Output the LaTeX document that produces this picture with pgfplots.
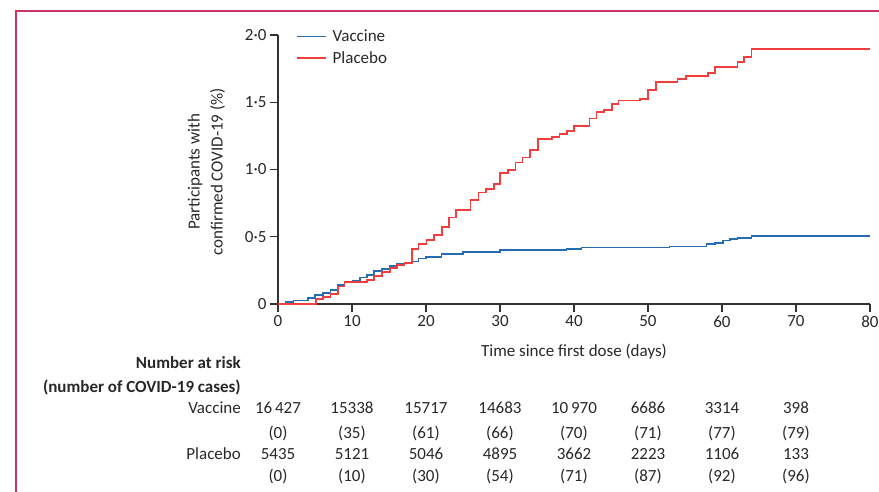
\documentclass[border=0pt]{standalone}
\usepackage{pgfplots}
\pgfplotsset{compat=1.18}
\usepackage{fontspec}
\setmainfont{Carlito}
\definecolor{vac}{RGB}{38,108,178}
\definecolor{pla}{RGB}{240,62,62}
\definecolor{framec}{RGB}{200,52,100}
\definecolor{txt}{RGB}{40,40,40}
\definecolor{axisc}{RGB}{50,50,50}
\newcommand{\fs}{\fontsize{17}{23}\selectfont}
\begin{document}
\begin{tikzpicture}[x=1pt,y=1pt]
\useasboundingbox (0,0) rectangle (879,492);
\draw[framec, line width=2pt] (16,0) -- (16,481) -- (879,481);
\begin{axis}[
  at={(278pt,188pt)}, anchor=south west,
  scale only axis, width=592pt, height=269pt,
  xmin=0, xmax=80, ymin=0, ymax=2,
  axis lines*=left,
  axis line style={line width=1.4pt, color=axisc},
  tick style={line width=1.4pt, color=axisc},
  tick align=outside,
  major tick length=8pt,
  xtick={0,10,...,80},
  ytick={0,0.5,1,1.5,2},
  yticklabels={0,0·5,1·0,1·5,2·0},
  /pgf/number format/assume math mode=true,
  tick label style={font=\fs, text=txt},
  xlabel={Time since first dose (days)},
  xlabel style={font=\fs, text=txt, at={(axis description cs:0.5,-0.178)}, anchor=center},
  ylabel={Participants with\\confirmed COVID-19 (\%)},
  ylabel style={font=\fs, text=txt, align=center, at={(axis description cs:-0.1208,0.491)}, anchor=center},
  clip=false,
  legend style={draw=none, fill=none, at={(axis cs:2.0,2.068)}, anchor=north west, font=\fs, text=txt, row sep=4pt},
  legend cell align=left,
  legend image code/.code={\draw[#1] (0pt,0pt) -- (29pt,0pt); \path (33pt,0pt);},
]
\addplot[const plot, vac, line width=1.7pt] coordinates {
(0,0) (1.0,0.013) (2.1,0.025) (4.1,0.042) (5.0,0.067) (6.1,0.084) (7.1,0.104)
(8.1,0.139) (9.0,0.164) (10.1,0.173) (11.05,0.198) (12.07,0.216) (13.0,0.245)
(14.1,0.258) (15.1,0.283) (16.1,0.295) (17.1,0.303) (18.07,0.316) (19.0,0.338)
(20.0,0.349) (22.1,0.373) (25.0,0.384) (30.0,0.399) (39.0,0.409) (41.0,0.419)
(52.9,0.428) (57.9,0.444) (59.05,0.456) (60.1,0.471) (61.1,0.481) (62.1,0.491)
(64.0,0.503) (80,0.503)};
\addlegendentry{Vaccine}
\addplot[const plot, pla, line width=1.7pt] coordinates {
(0,0) (5.1,0.035) (6.1,0.054) (7.1,0.074) (8.07,0.129) (9.0,0.164) (12.07,0.178)
(13.0,0.208) (14.1,0.24) (15.1,0.27) (16.1,0.288) (17.1,0.305) (18.07,0.407)
(19.0,0.446) (20.05,0.476) (21.1,0.515) (22.15,0.575) (23.1,0.642) (24.05,0.699)
(26.0,0.771) (27.1,0.828) (28.1,0.853) (29.2,0.89) (30.0,0.972) (31.05,0.994)
(32.1,1.052) (33.05,1.089) (34.05,1.146) (35.1,1.229) (37.05,1.240) (38.05,1.262)
(39.1,1.288) (40.0,1.322) (42.1,1.379) (43.03,1.429) (44.05,1.442) (45.1,1.486)
(46.0,1.512) (48.9,1.523) (50.0,1.590) (51.1,1.651) (54.0,1.673) (55.1,1.696)
(58.1,1.72) (59.1,1.764) (62.1,1.80) (63.0,1.839) (64.0,1.894) (80,1.894)};
\addlegendentry{Placebo}
% risk table
\begin{scope}[every node/.style={font=\fs, text=txt, inner sep=0pt}]
\node[anchor=east, font=\fs\bfseries] at (axis cs:-5.0,-0.439) {Number at risk};
\node[anchor=east, font=\fs\bfseries] at (axis cs:-5.0,-0.617) {(number of COVID-19 cases)};
\node[anchor=east] at (axis cs:-5.0,-0.773) {Vaccine};
\node[anchor=east] at (axis cs:-5.0,-1.115) {Placebo};
\node at (axis cs:0,-0.773) {16\,427};
\node at (axis cs:10,-0.773) {15338};
\node at (axis cs:20,-0.773) {15717};
\node at (axis cs:30,-0.773) {14683};
\node at (axis cs:40,-0.773) {10\,970};
\node at (axis cs:50,-0.773) {6686};
\node at (axis cs:60,-0.773) {3314};
\node at (axis cs:70,-0.773) {398};
\node at (axis cs:0,-0.959) {(0)};
\node at (axis cs:10,-0.959) {(35)};
\node at (axis cs:20,-0.959) {(61)};
\node at (axis cs:30,-0.959) {(66)};
\node at (axis cs:40,-0.959) {(70)};
\node at (axis cs:50,-0.959) {(71)};
\node at (axis cs:60,-0.959) {(77)};
\node at (axis cs:70,-0.959) {(79)};
\node at (axis cs:0,-1.115) {5435};
\node at (axis cs:10,-1.115) {5121};
\node at (axis cs:20,-1.115) {5046};
\node at (axis cs:30,-1.115) {4895};
\node at (axis cs:40,-1.115) {3662};
\node at (axis cs:50,-1.115) {2223};
\node at (axis cs:60,-1.115) {1106};
\node at (axis cs:70,-1.115) {133};
\node at (axis cs:0,-1.279) {(0)};
\node at (axis cs:10,-1.279) {(10)};
\node at (axis cs:20,-1.279) {(30)};
\node at (axis cs:30,-1.279) {(54)};
\node at (axis cs:40,-1.279) {(71)};
\node at (axis cs:50,-1.279) {(87)};
\node at (axis cs:60,-1.279) {(92)};
\node at (axis cs:70,-1.279) {(96)};
\end{scope}
\end{axis}
\end{tikzpicture}
\end{document}
